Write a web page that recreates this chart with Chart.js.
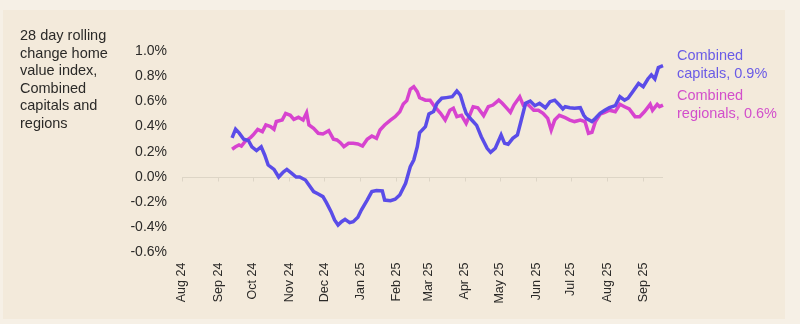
<!DOCTYPE html>
<html>
<head>
<meta charset="utf-8">
<script src="https://cdn.jsdelivr.net/npm/chart.js@4.4.1/dist/chart.umd.min.js"></script>
<style>
  html, body { margin: 0; padding: 0; background: #f6f0e6; }
  #wrap { position: relative; width: 800px; height: 324px; overflow: hidden; }
  #panel { position: absolute; left: 3px; top: 10px; width: 782px; height: 309px; background: #f3eadb; }
  #chart { position: absolute; left: 0; top: 0; }
  .txt { position: absolute; font-family: "Liberation Sans", Arial, sans-serif; font-size: 14.5px; line-height: 17.6px; }
  #ytitle { left: 20px; top: 27px; color: #2b2a28; }
  #capLabel { left: 677px; top: 47px; color: #6a5be6; }
  #regLabel { left: 677px; top: 87px; color: #d24fcb; }
</style>
</head>
<body>
<div id="wrap">
  <div id="panel"></div>
  <canvas id="chart" width="800" height="324"></canvas>
  <div class="txt" id="ytitle">28 day rolling<br>change home<br>value index,<br>Combined<br>capitals and<br>regions</div>
  <div class="txt" id="capLabel">Combined<br>capitals, 0.9%</div>
  <div class="txt" id="regLabel">Combined<br>regionals, 0.6%</div>
</div>
<script>
// x values are days since 1 Aug 2024
const monthDays = [0, 31, 61, 92, 122, 153, 184, 212, 243, 273, 304, 334, 365, 396];
const monthLabels = ['Aug 24', 'Sep 24', 'Oct 24', 'Nov 24', 'Dec 24', 'Jan 25', 'Feb 25',
  'Mar 25', 'Apr 25', 'May 25', 'Jun 25', 'Jul 25', 'Aug 25', 'Sep 25'];

// Combined capitals
const capDays = [43, 46, 49, 53, 57, 60, 64, 68, 71, 74, 79, 83, 87, 90, 94, 98, 101, 106, 109, 113,
  117, 121, 124, 128, 131, 134, 137, 140, 144, 147, 151, 154, 159, 163, 167, 172, 174, 179, 183, 187,
  192, 196, 199, 202, 204, 209, 212, 216, 219, 223, 227, 232, 236, 239, 242, 244, 249, 253, 257, 262,
  265, 269, 274, 277, 280, 284, 288, 291, 295, 299, 303, 307, 312, 316, 320, 324, 327, 329, 333, 337,
  342, 345, 347, 352, 355, 359, 363, 367, 372, 376, 380, 383, 387, 392, 396, 400, 403, 406, 409, 413];
const capValues = [0.31, 0.38, 0.35, 0.30, 0.29, 0.24, 0.21, 0.24, 0.175, 0.095, 0.06, 0.0, 0.04, 0.06, 0.03, 0.0, 0.0, -0.024, -0.063, -0.116,
  -0.135, -0.156, -0.204, -0.275, -0.341, -0.381, -0.355, -0.336, -0.362, -0.355, -0.32, -0.262, -0.183, -0.116, -0.108, -0.111, -0.183, -0.188, -0.177, -0.143,
  -0.05, 0.082, 0.135, 0.24, 0.35, 0.40, 0.50, 0.52, 0.585, 0.625, 0.63, 0.637, 0.683, 0.65, 0.56, 0.505, 0.45, 0.41, 0.32, 0.228,
  0.196, 0.228, 0.333, 0.267, 0.26, 0.307, 0.333, 0.44, 0.585, 0.603, 0.566, 0.585, 0.55, 0.598, 0.61, 0.571, 0.54, 0.558, 0.55, 0.545,
  0.55, 0.49, 0.466, 0.44, 0.466, 0.505, 0.53, 0.55, 0.566, 0.637, 0.61, 0.625, 0.677, 0.743, 0.717, 0.778, 0.81, 0.778, 0.868, 0.883];

// Combined regionals
const regDays = [43, 46, 49, 51, 54, 59, 61, 65, 69, 72, 76, 79, 81, 86, 89, 93, 96, 100, 104, 107,
  109, 113, 117, 121, 126, 130, 133, 136, 139, 143, 147, 151, 155, 159, 163, 167, 170, 174, 179, 183,
  187, 190, 193, 196, 199, 202, 204, 209, 213, 217, 222, 226, 230, 233, 236, 240, 244, 247, 250, 254,
  259, 263, 267, 272, 275, 279, 282, 285, 290, 293, 297, 302, 306, 310, 314, 317, 320, 324, 329, 333,
  337, 342, 346, 349, 352, 355, 359, 363, 367, 372, 376, 380, 384, 389, 393, 397, 402, 404, 408, 410, 413];
const regValues = [0.22, 0.24, 0.254, 0.246, 0.28, 0.315, 0.333, 0.378, 0.36, 0.413, 0.40, 0.378, 0.44, 0.452, 0.505, 0.49, 0.458, 0.474, 0.452, 0.51,
  0.413, 0.386, 0.347, 0.341, 0.367, 0.30, 0.294, 0.272, 0.24, 0.267, 0.267, 0.262, 0.246, 0.30, 0.325, 0.307, 0.373, 0.413, 0.452, 0.479,
  0.518, 0.579, 0.606, 0.696, 0.717, 0.677, 0.63, 0.61, 0.61, 0.558, 0.505, 0.452, 0.53, 0.545, 0.479, 0.49, 0.426, 0.49, 0.558, 0.55,
  0.487, 0.558, 0.571, 0.61, 0.585, 0.545, 0.513, 0.571, 0.637, 0.571, 0.577, 0.53, 0.53, 0.505, 0.466, 0.373, 0.452, 0.49, 0.471, 0.452,
  0.44, 0.452, 0.44, 0.347, 0.355, 0.44, 0.498, 0.513, 0.53, 0.518, 0.577, 0.558, 0.54, 0.479, 0.479, 0.518, 0.577, 0.53, 0.577, 0.558, 0.571];

const capColor = '#5a4ce8';
const regColor = '#d743cf';
const zeroColor = '#ddd5c6';

const toPoints = (xs, ys) => xs.map((x, i) => ({ x: x, y: ys[i] }));

// small tick marks under the zero line at each month
const zeroTicks = {
  id: 'zeroTicks',
  beforeDatasetsDraw(chart) {
    const { ctx, scales: { x, y } } = chart;
    const y0 = Math.round(y.getPixelForValue(0)) + 0.5;
    ctx.save();
    ctx.strokeStyle = zeroColor;
    ctx.lineWidth = 1;
    monthDays.forEach(d => {
      const px = Math.round(x.getPixelForValue(d)) + 0.5;
      ctx.beginPath();
      ctx.moveTo(px, y0);
      ctx.lineTo(px, y0 + 4);
      ctx.stroke();
    });
    ctx.restore();
  }
};

new Chart(document.getElementById('chart'), {
  type: 'line',
  data: {
    datasets: [
      { label: 'Combined capitals', data: toPoints(capDays, capValues), borderColor: capColor, borderWidth: 3.5, pointRadius: 0, tension: 0, clip: false },
      { label: 'Combined regionals', data: toPoints(regDays, regValues), borderColor: regColor, borderWidth: 3.5, pointRadius: 0, tension: 0, clip: false }
    ]
  },
  options: {
    responsive: false,
    animation: false,
    events: [],
    layout: { padding: { left: 0, right: 137, top: 51, bottom: 0 } },
    plugins: { legend: { display: false }, tooltip: { enabled: false } },
    scales: {
      x: {
        type: 'linear',
        min: 0,
        max: 413,
        afterBuildTicks: scale => { scale.ticks = monthDays.map(v => ({ value: v })); },
        afterFit: scale => { scale.height = 71.4; },
        grid: { display: false, drawTicks: false },
        border: { display: false },
        ticks: {
          autoSkip: false,
          minRotation: 90,
          maxRotation: 90,
          padding: 10,
          color: '#2b2a28',
          font: { family: '"Liberation Sans", Arial, sans-serif', size: 12.5 },
          callback: (v, i) => monthLabels[i]
        }
      },
      y: {
        min: -0.6,
        max: 1.0,
        afterFit: scale => { scale.width = 182; },
        grid: {
          drawTicks: false,
          color: c => (c.tick && Math.abs(c.tick.value) < 1e-9) ? zeroColor : 'transparent'
        },
        border: { display: false },
        ticks: {
          stepSize: 0.2,
          padding: 15,
          color: '#2b2a28',
          font: { family: '"Liberation Sans", Arial, sans-serif', size: 14 },
          callback: v => v.toFixed(1) + '%'
        }
      }
    }
  },
  plugins: [zeroTicks]
});
</script>
</body>
</html>
